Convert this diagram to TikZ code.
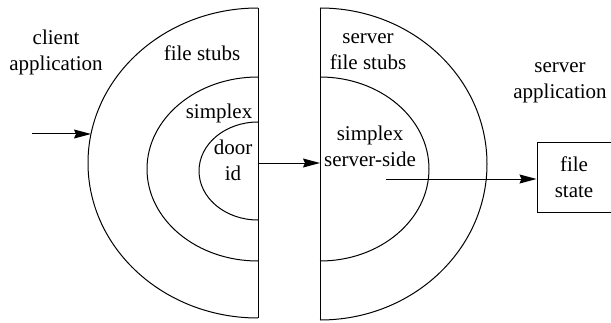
\documentclass[tikz,border=0pt]{standalone}
\usepackage{fontspec}
\setmainfont{Liberation Serif}
\usetikzlibrary{arrows.meta, positioning}
\tikzstyle{txt} = [
  align=center,
  inner sep=0,
  font=\rmfamily\fontsize{10.5}{13}\selectfont
]
\tikzstyle{layer} = [
  line width=0.5pt,
  draw=black
]
\tikzstyle{filebox} = [
  rectangle,
  minimum width=37pt,
  minimum height=35pt,
  text centered,
  inner sep=0,
  line width=0.5pt,
  draw=black,
  font=\rmfamily\fontsize{10.5}{13}\selectfont,
  align=center
]
\tikzstyle{arrow} = [
  line width=0.5pt,
  -{Stealth[length=8.5pt, width=4.5pt, inset=1pt]}
]
\begin{document}
\begin{tikzpicture}[x=0.5pt, y=0.5pt]
    \useasboundingbox (0,0) rectangle (611,322);

    % client side layers
    \draw [layer] (258,314) -- (258,4);
    \draw [layer] (258,314) arc[start angle=90, end angle=270, x radius=170, y radius=155];
    \draw [layer] (258,245) arc[start angle=90, end angle=270, x radius=111, y radius=92];
    \draw [layer] (258,200) arc[start angle=90, end angle=270, x radius=59, y radius=49];

    % server side layers
    \draw [layer] (320,314) -- (320,2);
    \draw [layer] (320,314) arc[start angle=90, end angle=-90, x radius=167, y radius=156];
    \draw [layer] (320,245) arc[start angle=90, end angle=-90, x radius=109, y radius=92];

    \node (client) [txt] at (56,270) {client\\application};
    \node (stubs) [txt] at (202,269) {file stubs};
    \node (simplex) [txt] at (219,209) {simplex};
    \node (door) [txt] at (233,162) {door\\id};
    \node (sstubs) [txt] at (368,270) {server\\file stubs};
    \node (sapp) [txt] at (560,239) {server\\application};
    \node (ssimplex) [txt] at (370,176) {simplex\\server-side};
    \node (state) [filebox] at (574,145) {file\\state};

    \coordinate (callin) at (32,188);
    \coordinate (outer) at (91,188);
    \coordinate (doorout) at (258,159);
    \coordinate (serverin) at (320,159);
    \coordinate (servecall) at (386,143);

    \draw [arrow] (callin) -- (outer);
    \draw [arrow] (doorout) -- (serverin);
    \draw [arrow] (servecall) -- (servecall -| state.west);

\end{tikzpicture}
\end{document}
